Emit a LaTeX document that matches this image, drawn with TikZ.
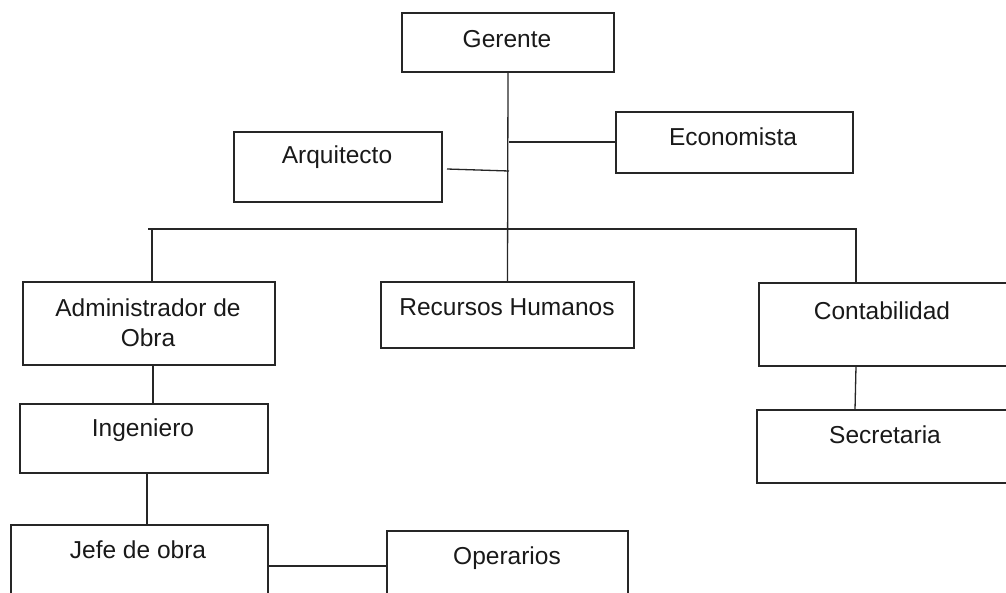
\documentclass[tikz,border=0pt]{standalone}
\usepackage{fontspec}
\setmainfont{Liberation Sans}
\usetikzlibrary{calc}
\begin{document}
\begin{tikzpicture}[x=1pt,y=-1pt,
  box/.style={draw=black!85,line width=1.3pt,inner sep=0pt,outer sep=0pt,fill=none},
  lbl/.style={anchor=base,inner sep=0pt,outer sep=0pt,font=\fontsize{24.5}{29.5}\selectfont,text=black!90,align=center},
  conn/.style={draw=black!85,line width=1.3pt}]
\useasboundingbox (0,0) rectangle (1006,592);
\clip (0,0) rectangle (1006,592);
% boxes
\node[box,minimum width=212pt,minimum height=59pt] (ger) at (508,42.5) {};
\node[box,minimum width=208pt,minimum height=70pt] (arq) at (338,167) {};
\node[box,minimum width=237pt,minimum height=61pt] (eco) at (734.5,142.5) {};
\node[box,minimum width=252pt,minimum height=83pt] (adm) at (149,323.5) {};
\node[box,minimum width=253pt,minimum height=66pt] (rrhh) at (507.5,315) {};
\node[box,minimum width=253pt,minimum height=83pt] (cont) at (885.5,324.5) {};
\node[box,minimum width=248pt,minimum height=69pt] (ing) at (144,438.5) {};
\node[box,minimum width=255pt,minimum height=73pt] (sec) at (884.5,446.5) {};
\node[box,minimum width=257pt,minimum height=85pt] (jefe) at (139.5,567.5) {};
\node[box,minimum width=241pt,minimum height=79pt] (oper) at (507.5,570.5) {};
% labels
\node[lbl] (gerT) at (507,47) {Gerente};
\node[lbl] (arqT) at (337,163) {Arquitecto};
\node[lbl] (ecoT) at (733,145) {Economista};
\node[lbl] (admT) at (148,346) {Administrador de\\Obra};
\node[lbl] (rrhhT) at (507,315) {Recursos Humanos};
\node[lbl] (contT) at (882,319) {Contabilidad};
\node[lbl] (ingT) at (143,436) {Ingeniero};
\node[lbl] (secT) at (885,443) {Secretaria};
\node[lbl] (jefeT) at (138,558) {Jefe de obra};
\node[lbl] (operT) at (507,564) {Operarios};
% bus coordinates
\coordinate (busL) at (148,229);
\coordinate (busR) at (857,229);
\coordinate (b1) at (152,229);
\coordinate (b3) at (856,229);
\coordinate (arqE) at (447,169);
\coordinate (arqJ) at (509,171);
\coordinate (ecoJ) at (509,142);
% connectors
\draw[conn] (ger.south) -- (rrhh.north);
\draw[conn] (busL) -- (busR);
\draw[conn] (b1) -- (b1 |- adm.north);
\draw[conn] (b3) -- (b3 |- cont.north);
\draw[conn] (arqE) -- (arqJ);
\draw[conn] (ecoJ) -- (ecoJ -| eco.west);
\draw[conn] ([xshift=4pt]adm.south) -- ([xshift=9pt]ing.north);
\draw[conn] ([xshift=3pt]ing.south) -- ([xshift=7.5pt]jefe.north);
\draw[conn] (jefe.east |- 0,566) -- (oper.west |- 0,566);
\draw[conn] ([xshift=-29.5pt]cont.south) -- ([xshift=-29.5pt]sec.north);
\end{tikzpicture}
\end{document}
